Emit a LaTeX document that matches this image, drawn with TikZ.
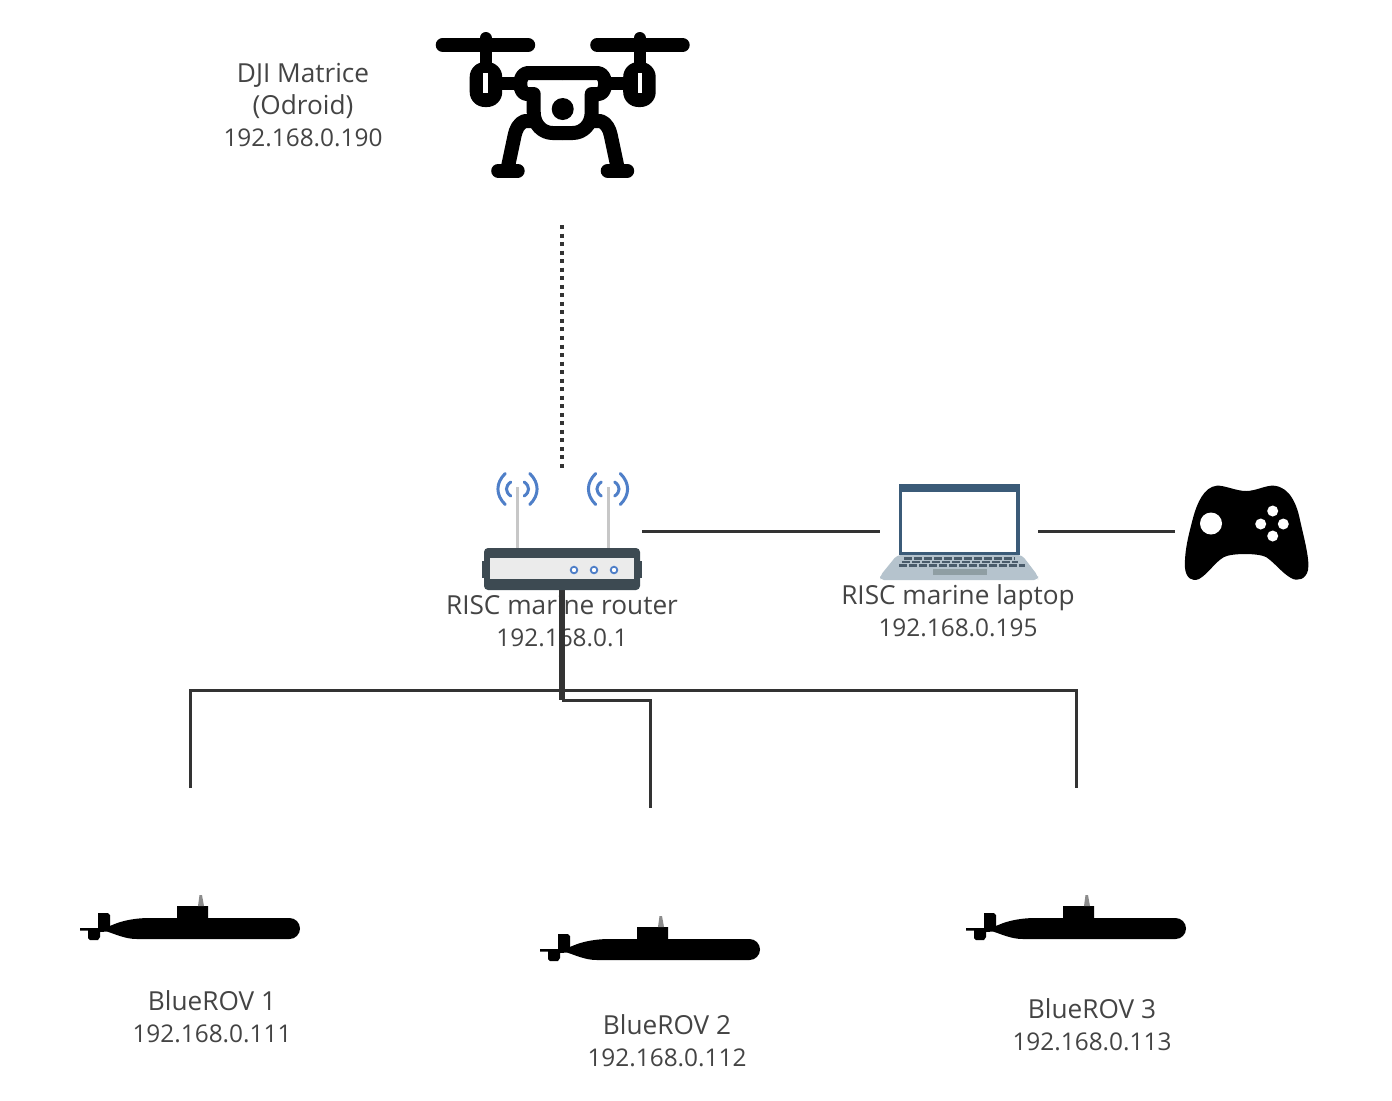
\documentclass[tikz,border=0pt]{standalone}
\usepackage{fontspec}
\setmainfont{Open Sans}
\definecolor{ink}{HTML}{444444}
\definecolor{wire}{HTML}{333333}
\definecolor{routerdark}{HTML}{3D4A52}
\definecolor{wifiblue}{HTML}{4F7FC8}
\definecolor{bezel}{HTML}{3B5B78}
\definecolor{lapbase}{HTML}{B5C3CD}
\definecolor{lapkeys}{HTML}{4A5C6B}
\definecolor{pad}{HTML}{8F9EA3}
\newcommand{\namedline}[1]{{\fontsize{13.1pt}{16pt}\selectfont #1}}
\tikzset{
  x=0.5pt,y=-0.5pt,
  label text/.style={font=\fontsize{12.2pt}{16pt}\selectfont,text=ink,align=center,inner sep=0pt},
  wire line/.style={draw=wire,line width=1.5pt},
  drone part/.style={draw=black,line width=7pt,line cap=round,line join=round},
  wave/.style={draw=wifiblue,line width=1.5pt,line cap=round},
  key row/.style={draw=lapkeys,line width=1.25pt,dash pattern=on 4.2pt off 0.8pt},
  submarine/.pic={
    \fill[black] (300,928.5) arc[start angle=0,end angle=-90,radius=10.5]
      -- (208,918) -- (208,906) -- (177,906) -- (177,918) -- (147,918)
      .. controls (130,918.5) and (118,922) .. (109,926.5)
      -- (110,927) -- (110,915) -- (108,913) -- (98,913) -- (98,928) -- (80,928) -- (80,930.5) -- (88,930.5)
      -- (88,938) -- (90,940) -- (98,940) -- (100,937) -- (100,932) -- (107,931.5)
      .. controls (115,934) and (125,939) .. (137,939)
      -- (289.5,939) arc[start angle=90,end angle=0,radius=10.5] -- cycle;
    \fill[black!45] (198,906) -- (199.5,895) -- (202,895) -- (204,906) -- cycle;
  },
  wifi/.pic={
    \foreach \s in {1,-1}{
      \draw[wave] ({\s*12.3},-15.5) .. controls ({\s*22},-6) and ({\s*22},6) .. ({\s*12.3},15.5);
      \draw[wave] ({\s*6.7},-7) .. controls ({\s*12.5},-3) and ({\s*12.5},3) .. ({\s*6.7},7);
    }
  }
}
\begin{document}
\begin{tikzpicture}
\useasboundingbox (0,0) rectangle (1392,1100);
\fill[white] (0,0) rectangle (1392,1100);

% ---- labels
\node[label text] (dronelabel) at (303,105) {\namedline{DJI Matrice}\\\namedline{(Odroid)}\\192.168.0.190};
\node[label text] (routerlabel) at (562,621) {\namedline{RISC marine router}\\192.168.0.1};
\node[label text] (laptoplabel) at (958,611) {\namedline{RISC marine laptop}\\192.168.0.195};
\node[label text] (rovlabela) at (212,1017) {\namedline{BlueROV 1}\\192.168.0.111};
\node[label text] (rovlabelb) at (667,1041) {\namedline{BlueROV 2}\\192.168.0.112};
\node[label text] (rovlabelc) at (1092,1025) {\namedline{BlueROV 3}\\192.168.0.113};

% ---- drone
\foreach \s in {1,-1}{
  \draw[drone part] ({562.7+\s*34.5},45) -- ({562.7+\s*120},45);
  \draw[drone part,line width=6pt] ({562.7+\s*77},38) -- ({562.7+\s*77},66);
  \fill[black,rounded corners=7.5pt] ({562.7+\s*60.5},62) rectangle ({562.7+\s*93},107);
  \fill[white] ({562.7+\s*75},73) rectangle ({562.7+\s*79.5},93);
  \draw[drone part,line width=6.5pt,line cap=butt] ({562.7+\s*63},83.5) -- ({562.7+\s*44},83.5);
  \draw[drone part] (562.7,73) -- ({562.7+\s*35},73)
     .. controls ({562.7+\s*40},73) and ({562.7+\s*42.5},79) .. ({562.7+\s*42.5},83.5)
     .. controls ({562.7+\s*42.5},89) and ({562.7+\s*40},94) .. ({562.7+\s*36},94)
     -- ({562.7+\s*29},94) -- ({562.7+\s*29},112)
     .. controls ({562.7+\s*29},125) and ({562.7+\s*20},133) .. ({562.7+\s*10},133)
     -- (562.7,133);
  \draw[drone part] ({562.7+\s*29},121) -- ({562.7+\s*38},121)
     .. controls ({562.7+\s*44},123) and ({562.7+\s*47},130) .. ({562.7+\s*48},135)
     -- ({562.7+\s*55},168);
  \draw[drone part] ({562.7+\s*45},170.7) -- ({562.7+\s*64.5},170.7);
}
\fill[black] (562.7,109) circle[radius=11];

% ---- connectors
\coordinate (dronelink) at (562,225);
\coordinate (routertop) at (562,468);
\coordinate (routerright) at (642,531);
\coordinate (laptopleft) at (880,531);
\coordinate (laptopright) at (1038,531);
\coordinate (gamepadleft) at (1175,531);
\coordinate (routerbottom) at (562,578);
\coordinate (busleft) at (190,690);
\coordinate (busright) at (1076,690);
\coordinate (rovtopa) at (190,788);
\coordinate (rovtopc) at (1076,788);
\coordinate (split) at (562,700);
\coordinate (rovtopb) at (650,808);
\draw[black!80,line width=2pt,dash pattern=on 2pt off 2.268pt] (dronelink) -- (routertop);
\draw[wire line] (routerright) -- (laptopleft);
\draw[wire line] (laptopright) -- (gamepadleft);
\draw[wire line] (rovtopa) -- (busleft) -- (busright) -- (rovtopc);
\draw[wire line] (split) -| (rovtopb);
\draw[wire line,line width=2.6pt] (routerbottom) -- (split);

% ---- router
\draw[black!22,line width=1.5pt] (517.5,487) -- (517.5,549);
\draw[black!22,line width=1.5pt] (608,487) -- (608,549);
\pic at (517.5,489) {wifi};
\pic at (608,489) {wifi};
\fill[routerdark] (482,561) rectangle (642,578);
\fill[routerdark,rounded corners=2pt] (484,548) rectangle (640,590);
\fill[black!8] (490,558) rectangle (634,579);
\foreach \cx in {574,594,614}{
  \draw[wifiblue,line width=0.9pt,fill=white] (\cx,570) circle[radius=3.3];
}

% ---- laptop
\fill[lapbase,rounded corners=2pt] (897,555) -- (1022,555) -- (1038,576) -- (1038,580) -- (880,580) -- (880,576) -- cycle;
\fill[bezel] (899,484) rectangle (1020,555);
\fill[white] (902,492) rectangle (1016,552);
\draw[key row] (904,558.5) -- (1015,558.5);
\draw[key row] (902,562) -- (1018,562);
\draw[key row] (899,565.5) -- (1025,565.5);
\fill[pad] (933,569) rectangle (987,575);

% ---- gamepad
\fill[black] (1216.7,485.7)
  .. controls (1224,485) and (1236,491) .. (1246,491)
  .. controls (1256,491) and (1266,485) .. (1274,485.7)
  .. controls (1290,487) and (1297,505) .. (1300,520)
  .. controls (1304,538) and (1310,560) .. (1308,570)
  .. controls (1306,579) and (1298,582) .. (1291,578)
  .. controls (1282,573) and (1275,563) .. (1266,557)
  .. controls (1258,553) and (1232,553) .. (1224,557)
  .. controls (1215,562) and (1208,574) .. (1199,579)
  .. controls (1192,582) and (1186,578) .. (1185,568)
  .. controls (1184,550) and (1190,530) .. (1193,518)
  .. controls (1197,503) and (1204,487) .. (1216.7,485.7) -- cycle;
\fill[white] (1211,523.5) circle[radius=11];
\foreach \px/\py in {1272.7/511,1260.7/524,1283.3/524,1272.7/536}{
  \fill[white] (\px,\py) circle[radius=5.5];
}

% ---- submarines
\pic at (0,0) {submarine};
\pic at (460,21) {submarine};
\pic at (886,0) {submarine};
\end{tikzpicture}
\end{document}
